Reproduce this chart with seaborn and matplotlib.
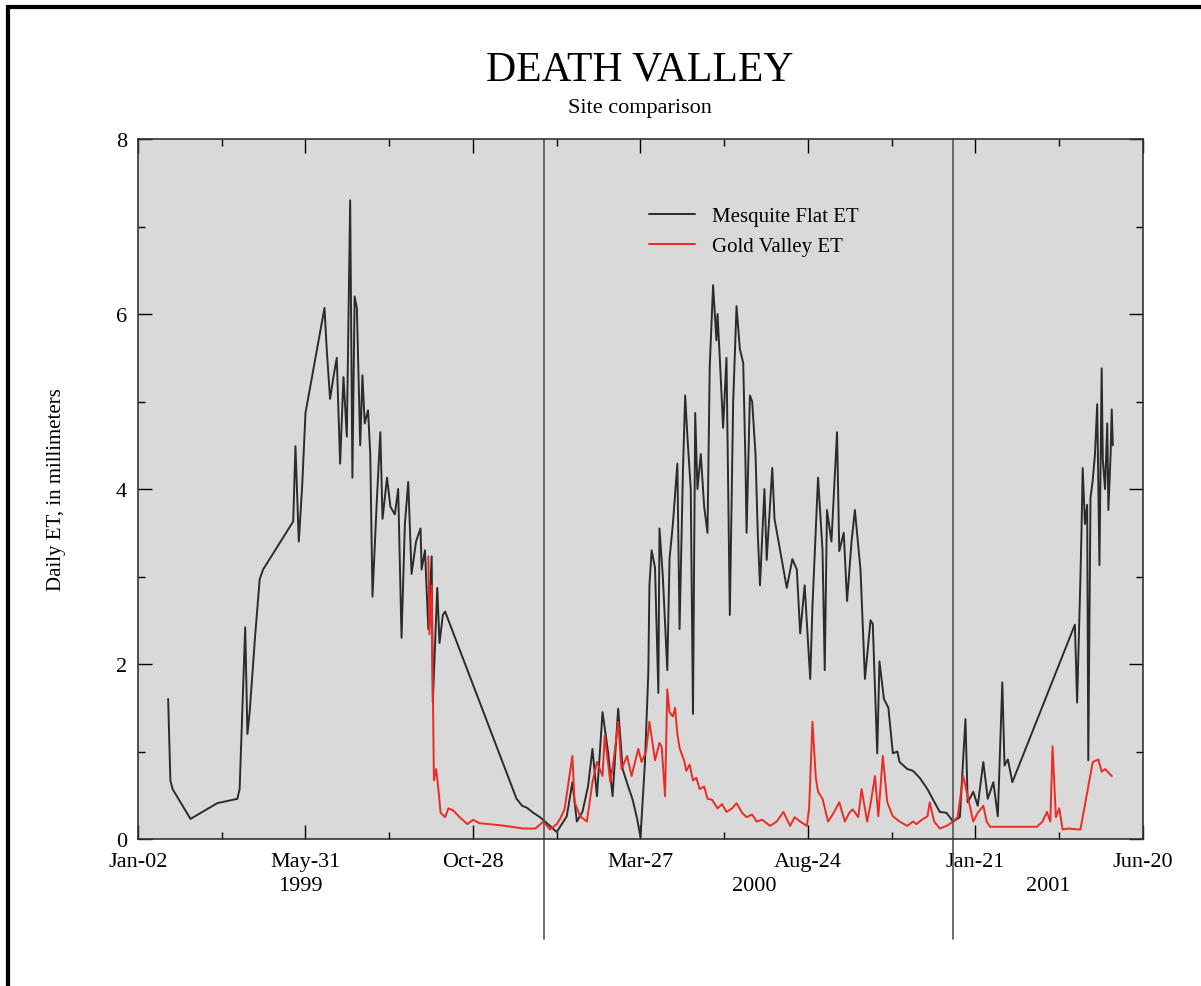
import pandas as pd
import matplotlib
matplotlib.use('Agg')
import matplotlib.pyplot as plt
import seaborn as sns
from matplotlib.ticker import MultipleLocator

# dias contados a partir de 02-jan-1999
mesquite_day = [27, 29, 31, 47, 71, 89, 91, 96, 98, 100,
                105, 109, 112, 139, 141, 144, 147, 150, 167, 169,
                172, 175, 178, 181, 184, 187, 190, 192, 194, 196,
                199, 201, 203, 206, 208, 210, 214, 217, 219, 223,
                226, 230, 233, 236, 239, 242, 245, 249, 253, 254,
                257, 260, 263, 264, 268, 270, 273, 275,
                339, 344, 348, 354, 360, 369, 375, 381, 384, 389,
                393, 398, 403, 407, 411, 416, 421, 425, 430, 434,
                439, 443, 447, 450, 454, 457, 458, 460, 463, 466,
                467, 470, 474, 476, 479, 483, 485, 488, 490, 492,
                495, 497, 499, 501, 504, 507, 510, 512, 515, 518,
                519, 521, 524, 527, 530, 533, 536, 539, 542, 544,
                545, 548, 550, 553, 555, 557, 561, 563, 568, 570,
                575, 581, 586, 590, 593, 597, 602, 604, 609, 613,
                615, 617, 621, 626, 628, 632, 635, 639, 642, 647,
                651, 656, 658, 662, 664, 668, 672, 676, 680, 682,
                689, 694, 700, 707, 712, 718, 724, 730, 736, 741,
                743, 748, 752, 757, 761, 766, 770, 774, 776, 779,
                783,
                839, 841, 844, 845, 846, 848, 850, 851, 853, 855,
                857, 859, 861, 863, 864, 866, 868, 869, 871, 872,
                873]
mesquite_et = [1.6, 0.67, 0.57, 0.23, 0.41, 0.46, 0.57, 2.42, 1.2, 1.45,
               2.34, 2.97, 3.08, 3.63, 4.49, 3.4, 4.03, 4.87, 6.07, 5.6,
               5.03, 5.28, 5.5, 4.29, 5.28, 4.6, 7.3, 4.13, 6.2, 6.07,
               4.5, 5.3, 4.75, 4.9, 4.4, 2.77, 3.9, 4.65, 3.66, 4.13,
               3.8, 3.71, 4.0, 2.3, 3.6, 4.08, 3.03, 3.4, 3.55, 3.08,
               3.3, 2.4, 3.23, 1.56, 2.87, 2.24, 2.56, 2.6,
               0.46, 0.38, 0.36, 0.3, 0.25, 0.15, 0.08, 0.2, 0.26, 0.65,
               0.2, 0.31, 0.6, 1.03, 0.49, 1.45, 0.99, 0.49, 1.49, 0.8,
               0.6, 0.45, 0.23, 0.02, 0.88, 1.9, 2.9, 3.3, 3.1, 1.67,
               3.55, 3.0, 1.93, 3.2, 3.6, 4.29, 2.4, 4.2, 5.07, 4.6,
               4.0, 1.43, 4.87, 4.0, 4.4, 3.8, 3.5, 5.4, 6.33, 5.7,
               6.0, 5.5, 4.7, 5.5, 2.56, 5.0, 6.09, 5.6, 5.44, 4.3,
               3.5, 5.07, 5.0, 4.4, 3.5, 2.9, 4.0, 3.19, 4.24, 3.66,
               3.3, 2.87, 3.2, 3.08, 2.35, 2.9, 1.83, 2.66, 4.13, 3.3,
               1.93, 3.76, 3.4, 4.65, 3.29, 3.5, 2.72, 3.4, 3.76, 3.08,
               1.83, 2.5, 2.46, 0.98, 2.03, 1.6, 1.5, 0.98, 1.0, 0.88,
               0.8, 0.78, 0.7, 0.57, 0.45, 0.31, 0.3, 0.2, 0.25, 1.37,
               0.42, 0.54, 0.38, 0.88, 0.46, 0.65, 0.26, 1.79, 0.84, 0.91,
               0.65,
               2.45, 1.56, 3.0, 3.56, 4.24, 3.6, 3.82, 0.9, 3.9, 4.1,
               4.4, 4.97, 3.13, 5.38, 4.34, 4.0, 4.75, 3.76, 4.4, 4.91,
               4.5]

gold_day = [260, 261, 263, 265, 267, 269, 271, 275, 278, 282,
            288, 295, 300, 306, 315, 329, 345, 356, 363, 369,
            375, 378, 382, 389, 391, 396, 402, 407, 411, 416,
            418, 423, 426, 430, 433, 438, 442, 448, 451, 455,
            458, 463, 467, 469, 472, 474, 476, 479, 481, 483,
            485, 489, 491, 494, 497, 500, 503, 507, 510, 514,
            519, 523, 527, 532, 536, 541, 545, 550, 554, 559,
            566, 572, 578, 584, 588, 593, 599, 601, 604, 607,
            609, 613, 618, 623, 628, 633, 637, 640, 645, 648,
            653, 656, 660, 663, 665, 667, 671, 676, 682, 689,
            694, 697, 702, 707, 709, 713, 718, 724, 730, 734,
            739, 743, 748, 752, 757, 760, 763, 772, 785, 799,
            805, 810, 814, 817, 819, 822, 825, 828, 834, 841,
            844, 855, 860, 863, 866, 872]
gold_et = [3.23, 2.34, 2.9, 0.67, 0.8, 0.57, 0.3, 0.25, 0.35, 0.33,
           0.25, 0.17, 0.22, 0.18, 0.17, 0.15, 0.12, 0.12, 0.2, 0.11,
           0.17, 0.23, 0.34, 0.95, 0.42, 0.26, 0.2, 0.65, 0.88, 0.72,
           1.18, 0.65, 0.9, 1.34, 0.8, 0.95, 0.72, 1.03, 0.88, 1.0,
           1.34, 0.9, 1.1, 1.05, 0.49, 1.71, 1.45, 1.4, 1.5, 1.2,
           1.04, 0.9, 0.78, 0.85, 0.67, 0.7, 0.57, 0.6, 0.46, 0.45,
           0.35, 0.4, 0.31, 0.35, 0.41, 0.3, 0.25, 0.28, 0.2, 0.22,
           0.15, 0.2, 0.31, 0.15, 0.25, 0.2, 0.15, 0.35, 1.34, 0.7,
           0.54, 0.46, 0.2, 0.3, 0.42, 0.2, 0.3, 0.34, 0.25, 0.57,
           0.2, 0.4, 0.72, 0.26, 0.6, 0.95, 0.42, 0.26, 0.2, 0.15,
           0.2, 0.17, 0.22, 0.26, 0.42, 0.2, 0.12, 0.15, 0.2, 0.25,
           0.72, 0.49, 0.2, 0.3, 0.38, 0.2, 0.14, 0.14, 0.14, 0.14,
           0.14, 0.2, 0.31, 0.2, 1.06, 0.25, 0.35, 0.11, 0.12, 0.11,
           0.11, 0.88, 0.91, 0.77, 0.8, 0.72]

tick_days = [0, 150, 300, 450, 600, 750, 900]
tick_labels = ['Jan-02', 'May-31', 'Oct-28', 'Mar-27', 'Aug-24', 'Jan-21', 'Jun-20']
year_breaks = [364, 730]
year_labels = ['1999', '2000', '2001']
year_label_days = [145, 552, 815]

df = pd.concat([
    pd.DataFrame({'dia': mesquite_day, 'et': mesquite_et, 'site': 'Mesquite Flat ET'}),
    pd.DataFrame({'dia': gold_day, 'et': gold_et, 'site': 'Gold Valley ET'}),
])

sns.set_style('ticks')
plt.rcParams['font.family'] = ['Liberation Serif', 'DejaVu Serif']
plt.rcParams['text.color'] = 'black'
plt.rcParams['xtick.color'] = 'black'
plt.rcParams['ytick.color'] = 'black'
plt.rcParams['axes.labelcolor'] = 'black'

fig = plt.figure(figsize=(12.01, 9.87), dpi=100)
ax = fig.add_axes([0.1149, 0.1489, 0.8368, 0.7092])
ax.set_facecolor('#d9d9d9')

sns.lineplot(data=df, x='dia', y='et', hue='site', estimator=None, sort=False,
             palette={'Mesquite Flat ET': '#2b2b2b', 'Gold Valley ET': '#ee2a24'},
             linewidth=1.4, ax=ax)

ax.set_xlim(0, 900)
ax.set_ylim(0, 8)
ax.set_xticks(tick_days)
ax.set_xticklabels(tick_labels)
ax.set_yticks([0, 2, 4, 6, 8])
ax.xaxis.set_minor_locator(MultipleLocator(75))
ax.yaxis.set_minor_locator(MultipleLocator(1))
ax.tick_params(which='both', direction='in', top=True, right=True, labelsize=16)
ax.tick_params(axis='x', pad=9)
ax.tick_params(axis='y', pad=8)
ax.tick_params(which='major', length=10, width=1)
ax.tick_params(which='minor', length=5, width=1)
for s in ax.spines.values():
    s.set_linewidth(1.2)
    s.set_color('#333333')
ax.set_xlabel('')
ax.set_ylabel('Daily ET, in millimeters', fontsize=15, labelpad=36)

# separação dos anos
for d in year_breaks:
    ax.plot([d, d], [1, -0.143], transform=ax.get_xaxis_transform(),
            color='#555555', linewidth=1.2, clip_on=False)
for d, lab in zip(year_label_days, year_labels):
    ax.text(d, -0.067, lab, transform=ax.get_xaxis_transform(),
            ha='center', va='center', fontsize=16)

handles, labels = ax.get_legend_handles_labels()
ax.legend(handles, labels, loc='upper left', bbox_to_anchor=(0.49, 0.93),
          frameon=False, fontsize=15, handlelength=2.2)

fig.text(0.533, 0.929, 'DEATH VALLEY', ha='center', va='center', fontsize=30)
fig.text(0.533, 0.890, 'Site comparison', ha='center', va='center', fontsize=16)

# moldura da figura
fig.patches.append(plt.Rectangle((0.007, -0.02), 1.1, 1.012, transform=fig.transFigure,
                                 fill=False, edgecolor='black', linewidth=3))

plt.savefig('out.png', dpi=100)
